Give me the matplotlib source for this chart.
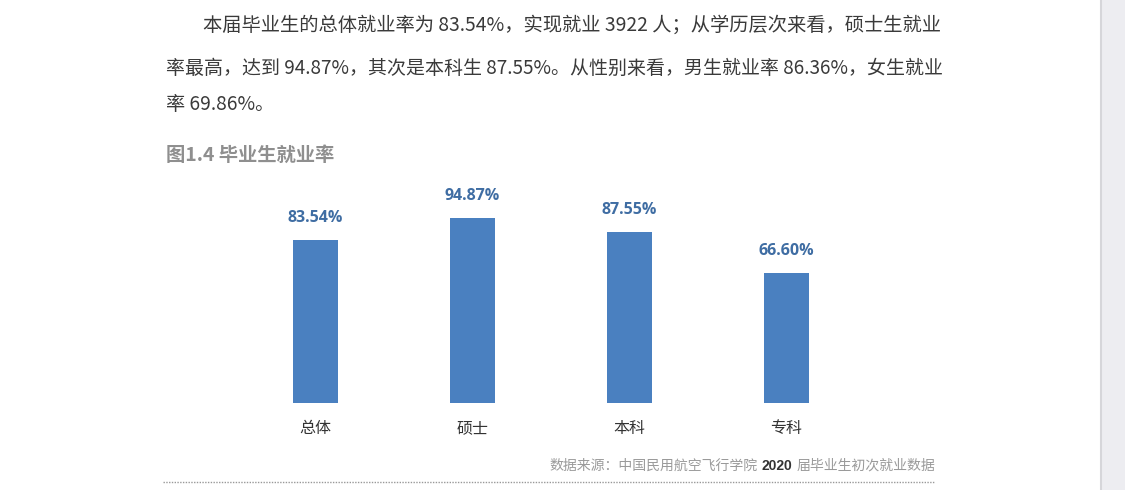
import matplotlib.pyplot as plt
from matplotlib.patches import Rectangle
from matplotlib.lines import Line2D

plt.rcParams['font.family'] = ['Noto Sans CJK SC', 'DejaVu Sans']

# data
categories = ['总体', '硕士', '本科', '专科']
rates = [83.54, 94.87, 87.55, 66.60]

paragraph = [
    '本届毕业生的总体就业率为 83.54%，实现就业 3922 人；从学历层次来看，硕士生就业',
    '率最高，达到 94.87%，其次是本科生 87.55%。从性别来看，男生就业率 86.36%，女生就业',
    '率 69.86%。',
]
fig_title = '图1.4 毕业生就业率'
source_parts = ['数据来源：中国民用航空飞行学院', '2020', '届毕业生初次就业数据']

W, H = 1125, 490
fig = plt.figure(figsize=(W / 100, H / 100), dpi=100)


def px(x, y):
    return x / W, 1 - y / H


# page edge on the right
fig.patches.append(Rectangle(px(1101, 490), 24 / W, 1, transform=fig.transFigure,
                             facecolor='#ededf1', edgecolor='none'))
fig.lines.append(Line2D([1101 / W] * 2, [0, 1], transform=fig.transFigure,
                        color='#d6d6da', lw=1.5))

# body text
fig.text(*px(203, 25), paragraph[0], fontsize=13.9, color='#3a3a3a', va='center')
fig.text(*px(166, 68), paragraph[1], fontsize=13.65, color='#3a3a3a', va='center')
fig.text(*px(166, 105), paragraph[2], fontsize=13.8, color='#3a3a3a', va='center')

fig.text(*px(166, 155), fig_title, fontsize=13.9, color='#8f8f8f',
         fontweight='bold', va='center')

# chart
ax = fig.add_axes([237 / W, (H - 403) / H, 628 / W, 195 / H])
bars = ax.bar(range(len(categories)), rates, width=0.285, color='#4a80c0')
ax.bar_label(bars, labels=[f'{v:.2f}%' for v in rates], padding=10,
             fontsize=11.5, fontweight='bold', color='#3f6da3',
             family=['Open Sans', 'DejaVu Sans'])
ax.set_xlim(-0.5, 3.5)
ax.set_ylim(0, 100)
ax.set_xticks(range(len(categories)))
ax.set_xticklabels(categories, fontsize=11.5, color='#333333')
ax.tick_params(axis='x', length=0, pad=12)
ax.set_yticks([])
for s in ax.spines.values():
    s.set_visible(False)

# source line
fig.text(*px(758, 466), source_parts[0], fontsize=10, color='#9a9a9a',
         ha='right', va='center')
fig.text(*px(777, 466), source_parts[1], fontsize=10, color='#333333',
         ha='center', va='center', fontweight='bold',
         family=['Liberation Sans', 'DejaVu Sans'])
fig.text(*px(797, 466), source_parts[2], fontsize=10, color='#9a9a9a',
         ha='left', va='center')
fig.lines.append(Line2D([163 / W, 935 / W], [1 - 482 / H] * 2, transform=fig.transFigure,
                        color='#999999', lw=1, ls=(0, (1, 1))))

fig.savefig('out.png', dpi=100, facecolor='white')
